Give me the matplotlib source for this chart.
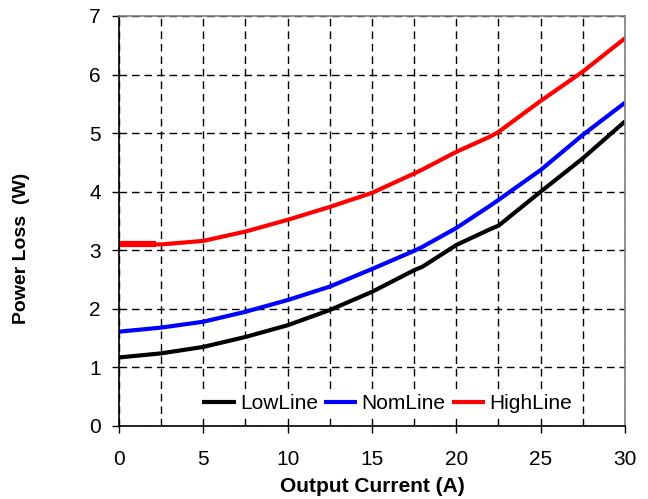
import matplotlib.pyplot as plt
import numpy as np

plt.rcParams['font.family'] = ['Liberation Sans', 'DejaVu Sans']

# Output current (A)
current = [0, 2.5, 5, 7.5, 10, 12.5, 15, 17.5, 18, 20, 22, 22.5, 25, 27.5, 30]

# Power loss (W)
low_line = [1.17, 1.24, 1.35, 1.52, 1.72, 1.98, 2.29, 2.66, 2.72, 3.09, 3.36, 3.42, 4.0, 4.57, 5.2]
nom_line = [1.61, 1.68, 1.78, 1.95, 2.15, 2.38, 2.68, 2.99, 3.06, 3.38, 3.76, 3.86, 4.37, 4.97, 5.52]
high_line = [3.1, 3.1, 3.16, 3.32, 3.52, 3.74, 3.98, 4.31, 4.38, 4.68, 4.94, 5.02, 5.55, 6.05, 6.62]

fig = plt.figure(figsize=(6.48, 4.99), dpi=100)
ax = fig.add_axes([0.1836, 0.1463, 0.7809, 0.8217])

ax.plot(current, low_line, color='black', lw=3, label='LowLine', solid_capstyle='butt')
ax.plot(current, nom_line, color='#0000ff', lw=3, label='NomLine', solid_capstyle='butt')
ax.plot(current, high_line, color='#ff0000', lw=3, label='HighLine', solid_capstyle='butt')
# thicker start of the HighLine trace
ax.plot([0, 2.2], [high_line[0]] * 2, color='#ff0000', lw=4.5, solid_capstyle='butt')

ax.set_xlim(0, 30)
ax.set_ylim(0, 7)
ax.set_xticks(np.arange(0, 31, 5))
ax.set_xticks(np.arange(2.5, 30, 5), minor=True)
ax.set_yticks(np.arange(0, 8, 1))

ax.grid(True, which='both', axis='x', color='black', lw=1, ls=(0, (5.5, 3.5)))
ax.grid(True, which='major', axis='y', color='black', lw=1, ls=(0, (5.5, 3.5)))
ax.set_axisbelow(True)

ax.tick_params(which='major', direction='out', length=5, width=1, labelsize=15)
ax.tick_params(axis='x', pad=12)
ax.tick_params(axis='y', pad=8)
ax.tick_params(which='minor', length=0)

for s in ['left', 'bottom']:
    ax.spines[s].set_color('black')
    ax.spines[s].set_linewidth(1.2)
for s in ['top', 'right']:
    ax.spines[s].set_color('#808080')
    ax.spines[s].set_linewidth(1.2)

ax.set_xlabel('Output Current (A)', fontsize=15, fontweight='bold', labelpad=6)
ax.set_ylabel('Power Loss  (W)', fontsize=14, fontweight='bold')
ax.yaxis.set_label_coords(-0.176, 0.434)

leg = ax.legend(loc='lower center', bbox_to_anchor=(0.53, -0.005), ncol=3, fontsize=15,
                frameon=True, handlelength=1.6, handletextpad=0.2, columnspacing=0.3,
                borderpad=0.2, fancybox=False)
leg.get_frame().set_edgecolor('none')
leg.get_frame().set_facecolor('white')
leg.get_frame().set_alpha(1)

fig.savefig('out.png', dpi=100)
